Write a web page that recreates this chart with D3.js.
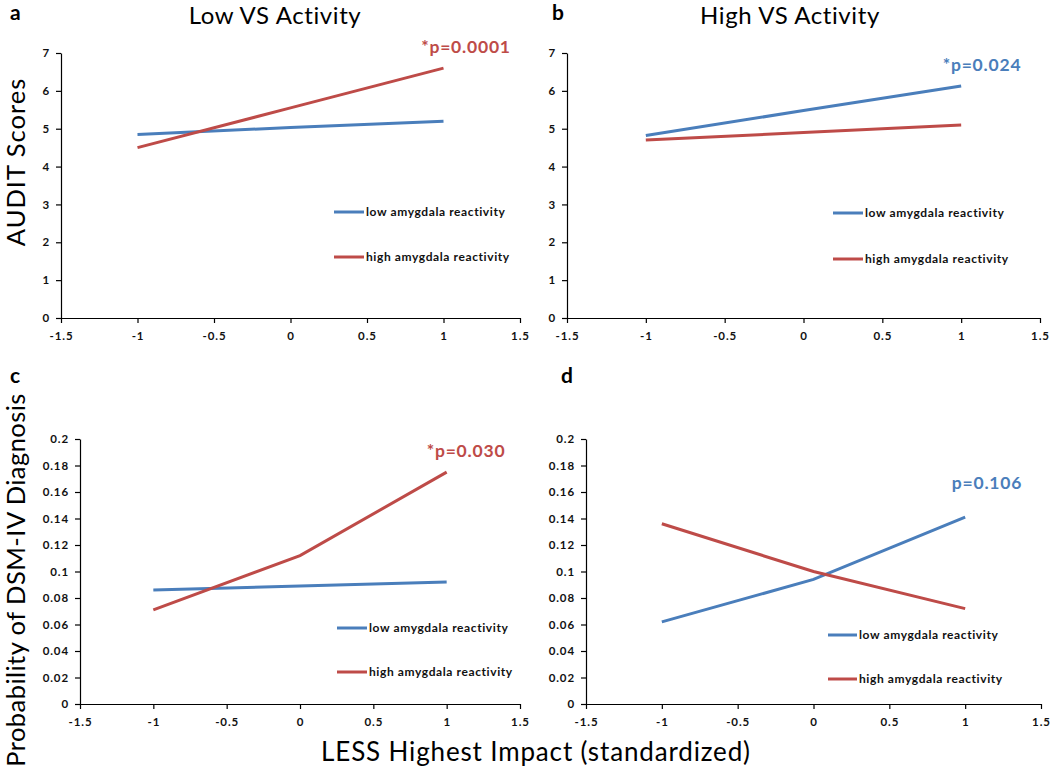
<!DOCTYPE html>
<html><head><meta charset="utf-8">
<script src="https://cdn.jsdelivr.net/npm/d3@7"></script>
<style>
html,body{margin:0;padding:0;background:#fff;}
svg{display:block;font-family:Lato, "Open Sans", sans-serif;}
</style></head>
<body>
<svg id="chart" width="1050" height="772"></svg>
<script>
// ---- data ----
const xLevels = [-1, 0, 1];
const xTicks = [-1.5, -1, -0.5, 0, 0.5, 1, 1.5];
const auditTicks = [0, 1, 2, 3, 4, 5, 6, 7];
const probTicks = [0, 0.02, 0.04, 0.06, 0.08, 0.1, 0.12, 0.14, 0.16, 0.18, 0.2];
const seriesNames = ["low amygdala reactivity", "high amygdala reactivity"];
const aLow = [4.85, 5.03, 5.2];
const aHigh = [4.5, 5.55, 6.6];
const bLow = [4.82, 5.48, 6.13];
const bHigh = [4.7, 4.9, 5.1];
const cLow = [0.086, 0.089, 0.092];
const cHigh = [0.071, 0.112, 0.175];
const dLow = [0.062, 0.094, 0.141];
const dHigh = [0.136, 0.100, 0.072];
const panelLetters = ["a", "b", "c", "d"];
const panelTitles = ["Low VS Activity", "High VS Activity", "", ""];
const pLabels = ["*p=0.0001", "*p=0.024", "*p=0.030", "p=0.106"];

const BLUE = "#4a7ebb", RED = "#be4b48";
const svg = d3.select("#chart");
const numFmt = d => String(+d.toFixed(2));

const panels = [
  {letter: panelLetters[0], title: panelTitles[0], low: aLow, high: aHigh, ticks: auditTicks, ymax: 7,
   xr: [61, 520], yr: [318, 53],
   letterPos: [10, 20], titlePos: [275, 24],
   p: pLabels[0], pColor: RED, pPos: [466, 53],
   leg: {x1: 334, x2: 364, y: [212, 257]}},
  {letter: panelLetters[1], title: panelTitles[1], low: bLow, high: bHigh, ticks: auditTicks, ymax: 7,
   xr: [567, 1040], yr: [318, 53],
   letterPos: [552, 20], titlePos: [790, 24],
   p: pLabels[1], pColor: BLUE, pPos: [982, 71],
   leg: {x1: 833, x2: 863, y: [213, 259]}},
  {letter: panelLetters[2], title: panelTitles[2], low: cLow, high: cHigh, ticks: probTicks, ymax: 0.2,
   xr: [80, 520], yr: [704, 439],
   letterPos: [10, 383], titlePos: null,
   p: pLabels[2], pColor: RED, pPos: [466, 457],
   leg: {x1: 337, x2: 367, y: [628, 672]}},
  {letter: panelLetters[3], title: panelTitles[3], low: dLow, high: dHigh, ticks: probTicks, ymax: 0.2,
   xr: [586, 1041], yr: [704, 439],
   letterPos: [561, 383], titlePos: null,
   p: pLabels[3], pColor: BLUE, pPos: [987, 489],
   leg: {x1: 828, x2: 857, y: [635, 679]}}
];

panels.forEach(P => {
  const x = d3.scaleLinear().domain([-1.5, 1.5]).range(P.xr);
  const y = d3.scaleLinear().domain([0, P.ymax]).range(P.yr);
  const g = svg.append("g");

  const xAxis = d3.axisBottom(x).tickValues(xTicks).tickSize(5).tickSizeOuter(0).tickFormat(numFmt);
  const gx = g.append("g").attr("transform", `translate(0,${P.yr[0]})`).call(xAxis);
  const yAxis = d3.axisLeft(y).tickValues(P.ticks).tickSize(5).tickSizeOuter(0).tickFormat(numFmt);
  const gy = g.append("g").attr("transform", `translate(${P.xr[0]},0)`).call(yAxis);
  [gx, gy].forEach(a => {
    a.select(".domain").attr("stroke", "#000").attr("stroke-width", 1.2);
    a.selectAll(".tick line").attr("stroke", "#000").attr("stroke-width", 1.2);
    a.selectAll("text").attr("font-family", "Lato, sans-serif").attr("font-weight", "bold")
      .attr("font-size", 11.5).attr("letter-spacing", "0.9px").attr("fill", "#111");
  });
  gx.selectAll("text").attr("dy", "0.71em").attr("y", 14);
  gy.selectAll("text").attr("x", -11);

  const line = d3.line().x((d, i) => x(xLevels[i])).y(d => y(d));
  g.append("path").datum(P.low).attr("d", line).attr("fill", "none")
    .attr("stroke", BLUE).attr("stroke-width", 3);
  g.append("path").datum(P.high).attr("d", line).attr("fill", "none")
    .attr("stroke", RED).attr("stroke-width", 3);

  // legend
  [BLUE, RED].forEach((c, i) => {
    g.append("line").attr("x1", P.leg.x1).attr("x2", P.leg.x2)
      .attr("y1", P.leg.y[i]).attr("y2", P.leg.y[i]).attr("stroke", c).attr("stroke-width", 3);
    g.append("text").attr("x", P.leg.x2 + 2).attr("y", P.leg.y[i]).attr("dy", "0.35em")
      .attr("font-weight", "bold").attr("font-size", 12).attr("letter-spacing", "0.6px")
      .attr("fill", "#111").text(seriesNames[i]);
  });

  // p label
  g.append("text").attr("x", P.pPos[0]).attr("y", P.pPos[1]).attr("text-anchor", "middle")
    .attr("font-weight", "bold").attr("font-size", 17.5).attr("letter-spacing", "0.8px")
    .attr("fill", P.pColor).text(P.p);

  // panel letter
  g.append("text").attr("x", P.letterPos[0]).attr("y", P.letterPos[1])
    .attr("font-weight", "bold").attr("font-size", 21).attr("fill", "#000").text(P.letter);
  if (P.title) {
    g.append("text").attr("x", P.titlePos[0]).attr("y", P.titlePos[1]).attr("text-anchor", "middle")
      .attr("font-size", 24).attr("letter-spacing", "0.6px").attr("fill", "#000").text(P.title);
  }
});

// axis titles
svg.append("text").attr("transform", "translate(25,162) rotate(-90)").attr("text-anchor", "middle")
  .attr("font-size", 25.5).attr("letter-spacing", "1px").attr("fill", "#000").text("AUDIT Scores");
svg.append("text").attr("transform", "translate(25,580) rotate(-90)").attr("text-anchor", "middle")
  .attr("font-size", 25.5).attr("letter-spacing", "0.45px").attr("fill", "#000").text("Probability of DSM-IV Diagnosis");
svg.append("text").attr("x", 536).attr("y", 761).attr("text-anchor", "middle")
  .attr("font-size", 26).attr("letter-spacing", "0.85px").attr("fill", "#000").text("LESS Highest Impact (standardized)");
</script>
</body></html>
